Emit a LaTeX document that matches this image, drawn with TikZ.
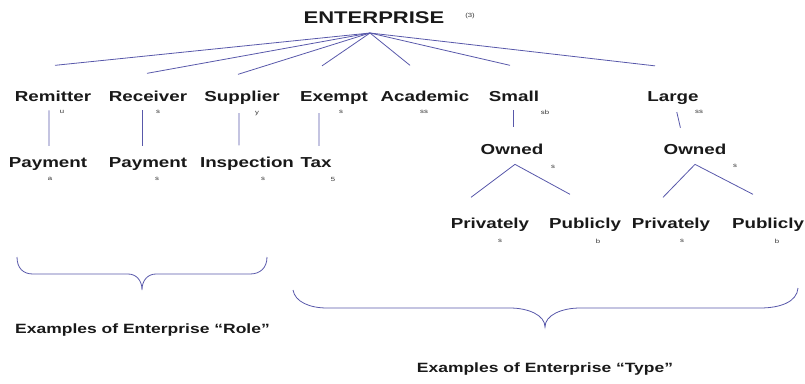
\documentclass[tikz,border=0pt]{standalone}
\usepackage{fontspec}
\setmainfont{Liberation Sans}[FakeStretch=1.3]
\usetikzlibrary{calc}

\definecolor{linkblue}{RGB}{88,88,170}
\tikzset{
	lbl/.style={font=\fontsize{14.5}{17}\selectfont\bfseries, inner sep=0pt, anchor=base, text=black!90},
	idx/.style={font=\fontsize{6}{7}\selectfont, inner sep=0pt, text=black!80},
	conn/.style={draw=linkblue, line width=0.8bp},
	down/.style={shorten <=9bp, shorten >=11bp},
}

\begin{document}
\begin{tikzpicture}[x=1bp,y=-1bp]
			\useasboundingbox (0,0) rectangle (805,383);
			
			% root
			\node[lbl, font=\fontsize{17}{20}\selectfont\bfseries] (ent) at (374,23) {ENTERPRISE};
			\coordinate (apex) at (370,33);
			
			% roles and types
			\node[lbl] (remit) at (53,101) {Remitter};
			\node[lbl] (recv) at (148,101) {Receiver};
			\node[lbl] (supp) at (242,101) {Supplier};
			\node[lbl] (exempt) at (334,101) {Exempt};
			\node[lbl] (acad) at (425,101) {Academic};
			\node[lbl] (small) at (514,101) {Small};
			\node[lbl] (large) at (673,101) {Large};
			
			\node[lbl] (pay1) at (48,167) {Payment};
			\node[lbl] (pay2) at (148,167) {Payment};
			\node[lbl] (insp) at (247,167) {Inspection};
			\node[lbl] (tax) at (316,167) {Tax};
			
			\node[lbl] (own1) at (512,154) {Owned};
			\node[lbl] (own2) at (695,154) {Owned};
			
			\node[lbl] (priv1) at (490,228) {Privately};
			\node[lbl] (pub1) at (585,228) {Publicly};
			\node[lbl] (priv2) at (671,228) {Privately};
			\node[lbl] (pub2) at (768,228) {Publicly};
			
			% fan from the root
			\draw[conn] (apex) -- ([xshift=2bp,yshift=25bp]remit.north);
			\draw[conn] (apex) -- ([xshift=-1bp,yshift=17bp]recv.north);
			\draw[conn] (apex) -- ([xshift=-4bp,yshift=16bp]supp.north);
			\draw[conn] (apex) -- ([xshift=-12bp,yshift=25bp]exempt.north);
			\draw[conn] (apex) -- ([xshift=-15bp,yshift=25bp]acad.north);
			\draw[conn] (apex) -- ([xshift=-4bp,yshift=25bp]small.north);
			\draw[conn] (apex) -- ([xshift=-18bp,yshift=25bp]large.north);
			
			% down links
			\draw[conn, down] ([xshift=-4bp]remit.south) -- ([xshift=1bp]pay1.north);
			\draw[conn, down] ([xshift=-6bp]recv.south) -- ([xshift=-6bp]pay2.north);
			\draw[conn, down] ([xshift=-3bp]supp.south) -- ([xshift=-8bp]insp.north);
			\draw[conn, down] ([xshift=-15bp]exempt.south) -- ([xshift=3bp]tax.north);
			\draw[conn, shorten <=9bp, shorten >=16bp] ([xshift=-1bp]small.south) -- ([xshift=1bp]own1.north);
			\draw[conn, shorten <=8bp, shorten >=16bp] ([xshift=2bp]large.south) -- ([xshift=-11bp]own2.north);
			
			\draw[conn] ([xshift=-19bp,yshift=20bp]priv1.north) -- ([xshift=3bp,yshift=-10bp]own1.south) -- ([xshift=-15bp,yshift=23bp]pub1.north);
			\draw[conn] ([xshift=-8bp,yshift=20bp]priv2.north) -- ([yshift=-10bp]own2.south) -- ([xshift=-15bp,yshift=23bp]pub2.north);
			
			% small index marks
			\node[idx] (entN) at (470,16) {(3)};
			\node[idx] (remitN) at (62,112) {u};
			\node[idx] (recvN) at (158,112) {s};
			\node[idx] (suppN) at (257,114) {y};
			\node[idx] (exemptN) at (341,112) {s};
			\node[idx] (acadN) at (424,112) {ss};
			\node[idx] (smallN) at (545,112) {sb};
			\node[idx] (largeN) at (699,112) {ss};
			\node[idx] (pay1N) at (50,179) {a};
			\node[idx] (pay2N) at (157,179) {s};
			\node[idx] (inspN) at (263,179) {s};
			\node[idx] (taxN) at (333,179) {5};
			\node[idx] (own1N) at (553,167) {s};
			\node[idx] (own2N) at (735,166) {s};
			\node[idx] (priv1N) at (500,241) {s};
			\node[idx] (pub1N) at (598,241) {b};
			\node[idx] (priv2N) at (682,241) {s};
			\node[idx] (pub2N) at (777,241) {b};
			
			% braces
			\draw[conn] (17,257) .. controls (17,268) and (23,274) .. (33,274) -- (128,274)
				.. controls (136,274) and (142,280) .. (142,290)
				.. controls (142,280) and (148,274) .. (156,274) -- (250,274)
				.. controls (260,274) and (267,268) .. (267,257);
			\draw[conn] (293,290) .. controls (295,302) and (310,308) .. (327,308) -- (510,308)
				.. controls (528,308) and (545,315) .. (545,327)
				.. controls (545,315) and (562,308) .. (580,308) -- (760,308)
				.. controls (780,308) and (797,302) .. (798,288);
			
			\node[lbl, font=\fontsize{13.5}{16}\selectfont\bfseries, anchor=base west] (role) at (15,333) {Examples of Enterprise “Role”};
			\node[lbl, font=\fontsize{13.5}{16}\selectfont\bfseries] (type) at (545,372) {Examples of Enterprise “Type”};
			\end{tikzpicture}
\end{document}
